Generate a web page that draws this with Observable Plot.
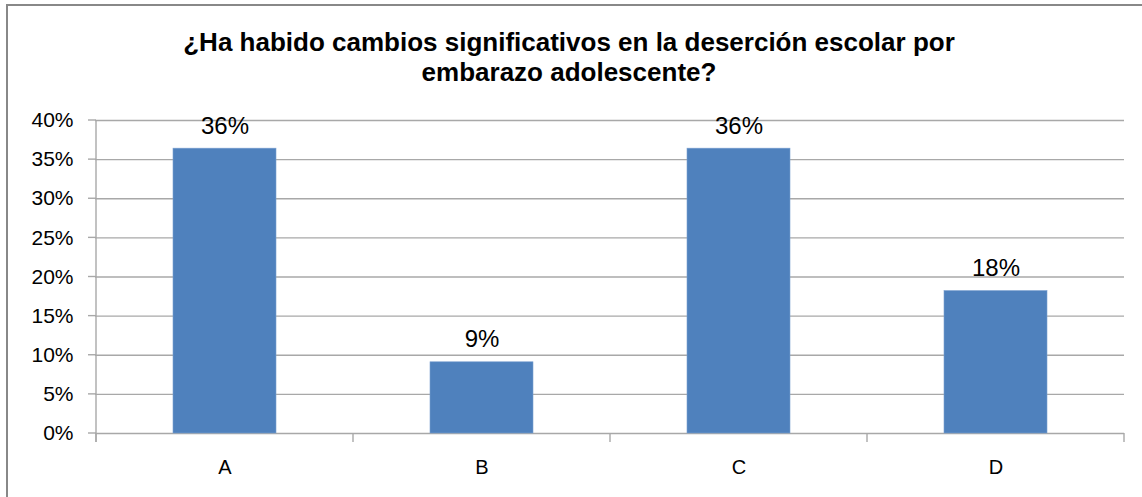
<!DOCTYPE html>
<html>
<head>
<meta charset="utf-8">
<script src="https://cdn.jsdelivr.net/npm/d3@7"></script>
<script src="https://cdn.jsdelivr.net/npm/@observablehq/plot@0.6"></script>
<style>
  html, body { margin: 0; padding: 0; background: #fff; overflow: hidden; width: 1142px; height: 497px; }
  #frame { position: absolute; left: 6px; top: 4px; width: 1200px; height: 560px; border: 2px solid #888; box-sizing: border-box; }
  #title { position: absolute; left: 0; top: 27px; width: 1138px; text-align: center; font-family: "Liberation Sans", Arial, sans-serif; font-weight: bold; font-size: 26px; line-height: 30px; color: #000; }
  #chart { position: absolute; left: 0; top: 100px; }
</style>
</head>
<body>
<div id="frame"></div>
<div id="title">¿Ha habido cambios significativos en la deserción escolar por<br>embarazo adolescente?</div>
<div id="chart"></div>
<script>
const categories = ["A", "B", "C", "D"];
const values = [36.4, 9.1, 36.4, 18.2];
const valueLabels = ["36%", "9%", "36%", "18%"];
const yTicks = [0, 5, 10, 15, 20, 25, 30, 35, 40];
const yTickLabels = ["0%", "5%", "10%", "15%", "20%", "25%", "30%", "35%", "40%"];

const data = categories.map((c, i) => ({cat: c, value: values[i], label: valueLabels[i]}));
const tickData = yTicks.map((v, i) => ({v, label: yTickLabels[i]}));
const font = "'Liberation Sans', Arial, sans-serif";

const plot = Plot.plot({
  width: 1142,
  height: 397,
  marginLeft: 95,
  marginRight: 18,
  marginTop: 20,
  marginBottom: 64,
  style: {fontFamily: font, fontSize: "20px", color: "#000", background: "transparent"},
  x: {domain: categories, paddingInner: 0.6, paddingOuter: 0.3, label: null, axis: null},
  y: {domain: [0, 40], label: null, axis: null},
  marks: [
    Plot.ruleY(yTicks, {stroke: "#a8a8a8", strokeWidth: 1.4}),
    Plot.barY(data, {x: "cat", y: "value", fill: "#4f81bd", stroke: "#7aa0d0", strokeWidth: 0.6}),
    Plot.text(data, {x: "cat", y: "value", text: "label", dy: -15, lineAnchor: "bottom", fontSize: 24, fill: "#000"}),
    Plot.text(tickData, {y: "v", text: "label", frameAnchor: "left", textAnchor: "end", dx: -22, fontSize: 21, fill: "#000"}),
    Plot.text(categories, {x: (d) => d, text: (d) => d, frameAnchor: "bottom", dy: 40, fontSize: 20, fill: "#000"})
  ]
});

const svg = d3.select(plot);

// y-axis tick marks, category boundary ticks and axis line, placed with the plot's own scales
const xs = plot.scale("x");
const ys = plot.scale("y");
const step = xs.step, bw = xs.bandwidth;
const bounds = categories.map(c => xs.apply(c) - (step - bw) / 2);
bounds.push(xs.apply(categories[categories.length - 1]) + bw + (step - bw) / 2);
const y0 = ys.apply(0), yTop = ys.apply(40);
const g = svg.append("g").attr("stroke", "#a8a8a8").attr("stroke-width", 1.4);
g.selectAll("line.b").data(bounds).join("line")
  .attr("x1", d => d).attr("x2", d => d)
  .attr("y1", y0).attr("y2", y0 + 9);
g.selectAll("line.t").data(yTicks).join("line")
  .attr("x1", bounds[0] - 8).attr("x2", bounds[0])
  .attr("y1", d => ys.apply(d)).attr("y2", d => ys.apply(d));
g.append("line")
  .attr("x1", bounds[0]).attr("x2", bounds[0])
  .attr("y1", yTop).attr("y2", y0 + 9);

document.getElementById("chart").appendChild(plot);
</script>
</body>
</html>
